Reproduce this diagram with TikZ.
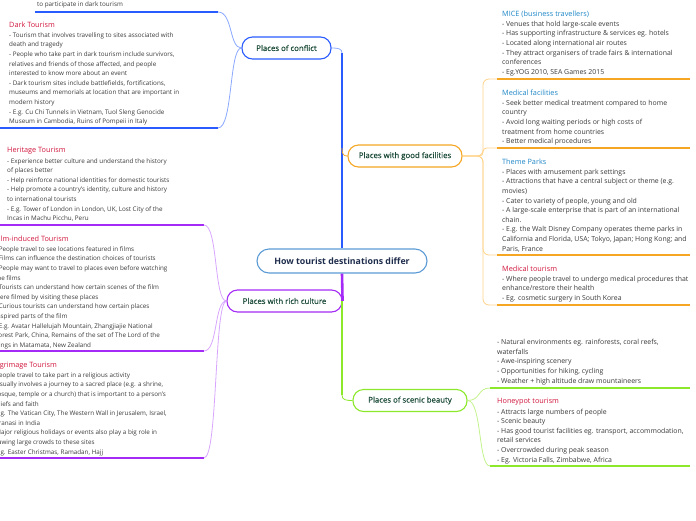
\documentclass[tikz,border=0pt]{standalone}
\usepackage{fontspec}
\setmainfont{Open Sans}
\definecolor{tred}{HTML}{D0163C}
\definecolor{tblue}{HTML}{1E86C6}
\definecolor{body}{HTML}{3A3A3A}
\definecolor{brtext}{HTML}{1E4D3B}
\definecolor{centext}{HTML}{1F2D4D}
\definecolor{cenline}{HTML}{5B9BD5}
\definecolor{cB}{HTML}{2A5BFF}
\definecolor{lB}{HTML}{8AA8FF}
\definecolor{cO}{HTML}{F5A623}
\definecolor{lO}{HTML}{FFD38A}
\definecolor{cP}{HTML}{A42BF5}
\definecolor{lP}{HTML}{D9A6FF}
\definecolor{cG}{HTML}{8BE82A}
\definecolor{lG}{HTML}{C4F28C}
\newcommand\ttl[2]{{\fontsize{7.3}{9.6}\selectfont\color{#1}#2}}
\tikzset{
  txt/.style={anchor=north west, inner sep=0pt, align=left, text=body,
    font=\fontsize{6.3}{9.6}\selectfont},
  txtR/.style={txt, font=\fontsize{6.9}{9.6}\selectfont},
  branch/.style={draw, line width=1.1pt, fill=white, rounded corners=10.5pt,
    minimum height=22pt, inner sep=0pt, text=brtext,
    font=\fontsize{7.8}{9}\selectfont\addfontfeature{FakeBold=0.6}},
  central/.style={draw=cenline, line width=1.1pt, fill=white, rounded corners=12pt,
    minimum height=24pt, minimum width=170pt, inner sep=0pt, text=centext,
    font=\fontsize{8.8}{10}\selectfont\bfseries},
  trunk/.style={line width=2.6pt},
  uline/.style={line width=1.8pt},
  conn/.style={line width=0.8pt}
}
\begin{document}
\begin{tikzpicture}[x=1pt,y=-1pt]
\useasboundingbox (0,0) rectangle (696,520);

% ---------- central and branch nodes ----------
\node[central] (cen) at (342,261) {How tourist destinations differ};
\node[branch, draw=cB, minimum width=89pt] (conf) at (286.5,48) {Places of conflict};
\node[branch, draw=cO, minimum width=114pt] (fac) at (405,156) {Places with good facilities};
\node[branch, draw=cP, minimum width=115pt] (cult) at (284.5,301) {Places with rich culture};
\node[branch, draw=cG, minimum width=114pt] (scen) at (410,400.5) {Places of scenic beauty};

% ---------- trunk ----------
\coordinate (tB) at (342,53);
\coordinate (tO) at (342,148);
\coordinate (tG1) at (342,301);
\coordinate (tG2) at (342,395);
\draw[conn, lB] (conf.east) .. controls (339,48) and (342,49) .. (tB);
\draw[trunk, cB] (tB) -- (cen.north);
\draw[conn, cO] (tO) .. controls (342,155) and (344,156) .. (fac.west);
\draw[trunk, cP] (cen.south) -- (cult.east);
\draw[trunk, cG] (tG1) -- (tG2);
\draw[conn, cG] (tG2) .. controls (342,400) and (346,400.5) .. (scen.west);

% ---------- blue children ----------
\coordinate (b0s) at (35,12);   \coordinate (b0e) at (218,12);
\coordinate (b1s) at (-2,128);  \coordinate (b1e) at (218,128);
\draw[uline, cB] (b0s) -- (b0e);
\draw[uline, cB] (b1s) -- (b1e);
\draw[conn, lB] (conf.west) .. controls (229,48) and (233,12) .. (b0e);
\draw[conn, lB] (conf.west) .. controls (229,48) and (233,128) .. (b1e);

\node[txt] (darkprev) at (37,1.3) {to participate in dark tourism};
\node[txt] (dark) at (9,21.3) {\ttl{tred}{Dark Tourism}\\[0.6pt]
- Tourism that involves travelling to sites associated with\\
death and tragedy\\
- People who take part in dark tourism include survivors,\\
relatives and friends of those affected, and people\\
interested to know more about an event\\
- Dark tourism sites include battlefields, fortifications,\\
museums and memorials at location that are important in\\
modern history\\
- E.g. Cu Chi Tunnels in Vietnam, Tuol Sleng Genocide\\
Museum in Cambodia, Ruins of Pompeii in Italy};

% ---------- purple children ----------
\coordinate (p0s) at (-2,225);  \coordinate (p0e) at (204,225);
\coordinate (p1s) at (-2,351);  \coordinate (p1e) at (204,351);
\coordinate (p2s) at (-2,458);  \coordinate (p2e) at (204,458);
\draw[uline, cP] (p0s) -- (p0e);
\draw[uline, cP] (p1s) -- (p1e);
\draw[uline, cP] (p2s) -- (p2e);
\draw[conn, lP] (cult.west) .. controls (214,301) and (218,225) .. (p0e);
\draw[conn, lP] (cult.west) .. controls (214,301) and (218,351) .. (p1e);
\draw[conn, lP] (cult.west) .. controls (214,301) and (218,458) .. (p2e);

\node[txt] (herit) at (7,147.3) {\ttl{tred}{Heritage Tourism}\\[0.6pt]
- Experience better culture and understand the history\\
of places better\\
- Help reinforce national identities for domestic tourists\\
- Help promote a country's identity, culture and history\\
to international tourists\\
- E.g. Tower of London in London, UK, Lost City of the\\
Incas in Machu Picchu, Peru};

\node[txt] (film) at (-5,235.3) {\ttl{tred}{Film-induced Tourism}\\[0.6pt]
- People travel to see locations featured in  films\\
- Films can influence the destination choices of tourists\\
- People may want to travel to places even before watching\\
the films\\
- Tourists can understand how certain scenes of the film\\
were filmed by visiting these places\\
- Curious tourists can understand how certain places\\
inspired parts of the film\\
- E.g. Avatar Hallelujah Mountain, Zhangjiajie National\\
Forest Park, China, Remains of the set of The Lord of the\\
Rings in Matamata, New Zealand};

\node[txt] (pilg) at (-8.5,361.3) {\ttl{tred}{Pilgrimage Tourism}\\[0.6pt]
- People travel to take part in a religious activity\\
- Usually involves a journey to a sacred place (e.g. a shrine,\\
mosque, temple or a church) that is important to a person's\\
beliefs and faith\\
- E.g. The Vatican City, The Western Wall in Jerusalem, Israel,\\
Varanasi in India\\
- Major religious holidays or events also play a big role in\\
drawing large crowds to these sites\\
- E.g. Easter Christmas, Ramadan, Hajj};

% ---------- orange children ----------
\coordinate (o0s) at (497,79);  \coordinate (o0e) at (690,79);
\coordinate (o1s) at (497,148); \coordinate (o1e) at (690,148);
\coordinate (o2s) at (497,255); \coordinate (o2e) at (690,255);
\coordinate (o3s) at (497,305); \coordinate (o3e) at (690,305);
\draw[uline, cO] (o0s) -- (o0e);
\draw[uline, cO] (o1s) -- (o1e);
\draw[uline, cO] (o2s) -- (o2e);
\draw[uline, cO] (o3s) -- (o3e);
\draw[conn, lO, rounded corners=6pt] (fac.east) -| (483,79) -- (o0s);
\draw[conn, lO, rounded corners=3.5pt] (fac.east) -| (483,148) -- (o1s);
\draw[conn, lO, rounded corners=6pt] (fac.east) -| (483,255) -- (o2s);
\draw[conn, lO, rounded corners=6pt] (fac.east) -| (483,305) -- (o3s);

\node[txtR] (mice) at (502,10.3) {\ttl{tblue}{MICE (business travellers)}\\[0.6pt]
- Venues that hold large-scale events\\
- Has supporting infrastructure \& services eg. hotels\\
- Located along international air routes\\
- They attract organisers of trade fairs \& international\\
conferences\\
- Eg.YOG 2010, SEA  Games 2015};

\node[txtR] (medf) at (502,89.3) {\ttl{tblue}{Medical facilities}\\[0.6pt]
- Seek better medical treatment compared to home\\
country\\
- Avoid long waiting periods or high costs of\\
treatment from home countries\\
- Better medical procedures};

\node[txtR] (theme) at (502,158.3) {\ttl{tblue}{Theme Parks}\\[0.6pt]
- Places with amusement park settings\\
- Attractions that have a central subject or theme (e.g.\\
movies)\\
- Cater to variety of people, young and old\\
- A large-scale enterprise that is part of an international\\
chain.\\
- E.g. the Walt Disney Company operates theme parks in\\
California and Florida, USA; Tokyo, Japan; Hong Kong; and\\
Paris, France};

\node[txtR] (medt) at (502,265.3) {\ttl{tred}{Medical tourism}\\[0.6pt]
- Where people travel to undergo medical procedures that\\
enhance/restore their health\\
- Eg. cosmetic surgery in South Korea};

% ---------- green children ----------
\coordinate (g0s) at (490,388); \coordinate (g0e) at (690,388);
\coordinate (g1s) at (490,466); \coordinate (g1e) at (690,466);
\draw[uline, cG] (g0s) -- (g0e);
\draw[uline, cG] (g1s) -- (g1e);
\draw[conn, lG] (scen.east) .. controls (481,400.5) and (477,388) .. (g0s);
\draw[conn, lG] (scen.east) .. controls (482,400.5) and (478,466) .. (g1s);

\node[txtR] (nat) at (497,339.3) {- Natural environments eg. rainforests, coral reefs,\\
waterfalls\\
- Awe-inspiring scenery\\
- Opportunities for hiking, cycling\\
- Weather + high altitude draw mountaineers};

\node[txtR] (honey) at (497,398.3) {\ttl{tred}{Honeypot tourism}\\[0.6pt]
- Attracts large numbers of people\\
- Scenic beauty\\
- Has good tourist facilities eg. transport, accommodation,\\
retail services\\
- Overcrowded during peak season\\
- Eg. Victoria Falls, Zimbabwe, Africa};
\end{tikzpicture}
\end{document}
